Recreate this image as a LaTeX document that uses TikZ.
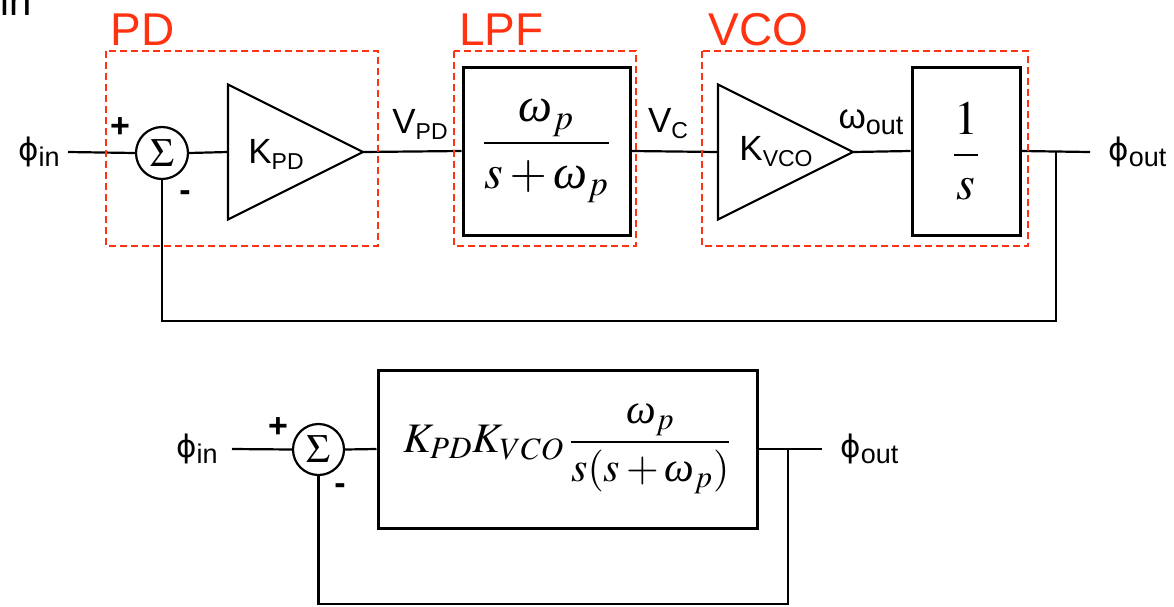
\documentclass[tikz,border=0pt]{standalone}
\usepackage{mathptmx}
\usepackage{fontspec}
\setmainfont{Liberation Sans}
\newfontfamily\serifit[ItalicFont={Liberation Serif Italic}]{Liberation Serif}
\newfontfamily\symfont{DejaVu Sans}
\usetikzlibrary{shapes.geometric}
\definecolor{pllRed}{HTML}{FF3311}
\newcommand\capsub[1]{\raisebox{-3pt}{\fontsize{11.5}{12}\selectfont #1}}
\newcommand\lowsub[1]{\raisebox{-3pt}{\fontsize{13.5}{14}\selectfont #1}}
\newcommand\phisym{{\symfont\fontsize{15.5}{16}\selectfont ϕ}}
\newcommand\omg{\mbox{\serifit\itshape ω}}

\begin{document}
\begin{tikzpicture}[
  x=0.5pt,y=-0.5pt,
  every node/.style={font=\fontsize{17.5}{20}\selectfont},
  wire/.style={line width=1.1pt,draw=black},
  block/.style={draw,line width=1.5pt,inner sep=0pt},
  amp/.style={draw,line width=1.1pt,isosceles triangle,isosceles triangle apex angle=53.13,
    isosceles triangle stretches,minimum width=67.5pt,minimum height=67.5pt,inner sep=0pt,
    outer sep=0pt,anchor=lower side},
  summer/.style={draw,circle,line width=1.1pt,inner sep=0pt,font=\fontsize{20}{20}\selectfont},
  group/.style={draw=pllRed,dash pattern=on 3.5pt off 2pt,line width=0.8pt},
  grouplbl/.style={text=pllRed,font=\fontsize{23}{23}\selectfont,inner sep=0pt,anchor=base west},
  sign/.style={font=\fontsize{17}{17}\selectfont\bfseries,inner sep=0pt}
]
  \useasboundingbox (0,0) rectangle (1174,606);

  % cut-off label at the top edge
  \node[anchor=base east,inner sep=0pt,font=\fontsize{28}{28}\selectfont] (phcut) at (32,7)
    {{\symfont ϕ}\raisebox{-4pt}{\fontsize{20}{20}\selectfont in}};

  % top loop
  \node[anchor=east,inner xsep=4pt] (phin) at (68,152) {\phisym\lowsub{in}};
  \node[summer,minimum size=26pt] (sum1) at (162,153) {$\Sigma$};
  \node[amp] (kpd) at (228,152) {};
  \node (kpdlbl) at (276,154) {K\capsub{PD}};
  \node[block,minimum width=83.5pt,minimum height=84pt] (lpf) at (546.5,151)
    {\fontsize{24}{24}\selectfont$\displaystyle\frac{\omg_p}{s+\omg_p}$};
  \node[amp] (kvco) at (718,152) {};
  \node (kvcolbl) at (776,152) {K\capsub{VCO}};
  \node[block,minimum width=54pt,minimum height=84pt] (integ) at (966,151)
    {\fontsize{24}{24}\selectfont$\displaystyle\frac{1}{s}$};
  \node[anchor=west,inner xsep=9pt] (phout) at (1090,152) {\phisym\lowsub{out}};
  \node (vpd) at (420,124) {V\capsub{PD}};
  \node (vc) at (668,124) {V\capsub{C}};
  \node (wout) at (871,122) {ω\lowsub{out}};
  \node[sign] (plus1) at (120,128) {+};
  \node[sign] (minus1) at (185,196) {-};

  \draw[wire] (phin.east) -- (sum1.west);
  \draw[wire] (sum1.east) -- (kpd.lower side);
  \draw[wire] (kpd.apex) -- (lpf.west);
  \draw[wire] (lpf.east) -- (kvco.lower side);
  \draw[wire] (kvco.apex) -- (integ.west);
  \draw[wire] (integ.east) -- (phout.west);
  \coordinate (tap1) at (1056,152);
  \coordinate (fb1) at (1056,321);
  \draw[wire] (tap1) -- (fb1) -| (sum1.south);

  \draw[group] (106,51) rectangle (378,246);
  \draw[group] (454,51) rectangle (636,246);
  \draw[group] (702,51) rectangle (1028,246);
  \node[grouplbl] (pdlbl) at (110,45) {PD};
  \node[grouplbl] (lpflbl) at (459,45) {LPF};
  \node[grouplbl] (vcolbl) at (708,45) {VCO};

  % reduced loop
  \node[anchor=east,inner xsep=7pt] (phin2) at (232,449) {\phisym\lowsub{in}};
  \node[summer,minimum size=25.5pt] (sum2) at (318.5,449.5) {$\Sigma$};
  \node[block,minimum width=189.5pt,minimum height=79pt] (open) at (567.5,449)
    {\fontsize{21}{21}\selectfont$K_{PD}K_{VCO}\,\displaystyle\frac{\omg_p}{s(s+\omg_p)}$};
  \node[anchor=west,inner xsep=9pt] (phout2) at (822,449) {\phisym\lowsub{out}};
  \node[sign] (plus2) at (278,428) {+};
  \node[sign] (minus2) at (340,489) {-};

  \draw[wire] (phin2.east) -- (sum2.west);
  \draw[wire] (sum2.east) -- (open.west);
  \draw[wire] (open.east) -- (phout2.west);
  \coordinate (tap2) at (788,449);
  \coordinate (fb2) at (788,604);
  \draw[wire] (tap2) -- (fb2) -| (sum2.south);
\end{tikzpicture}
\end{document}
